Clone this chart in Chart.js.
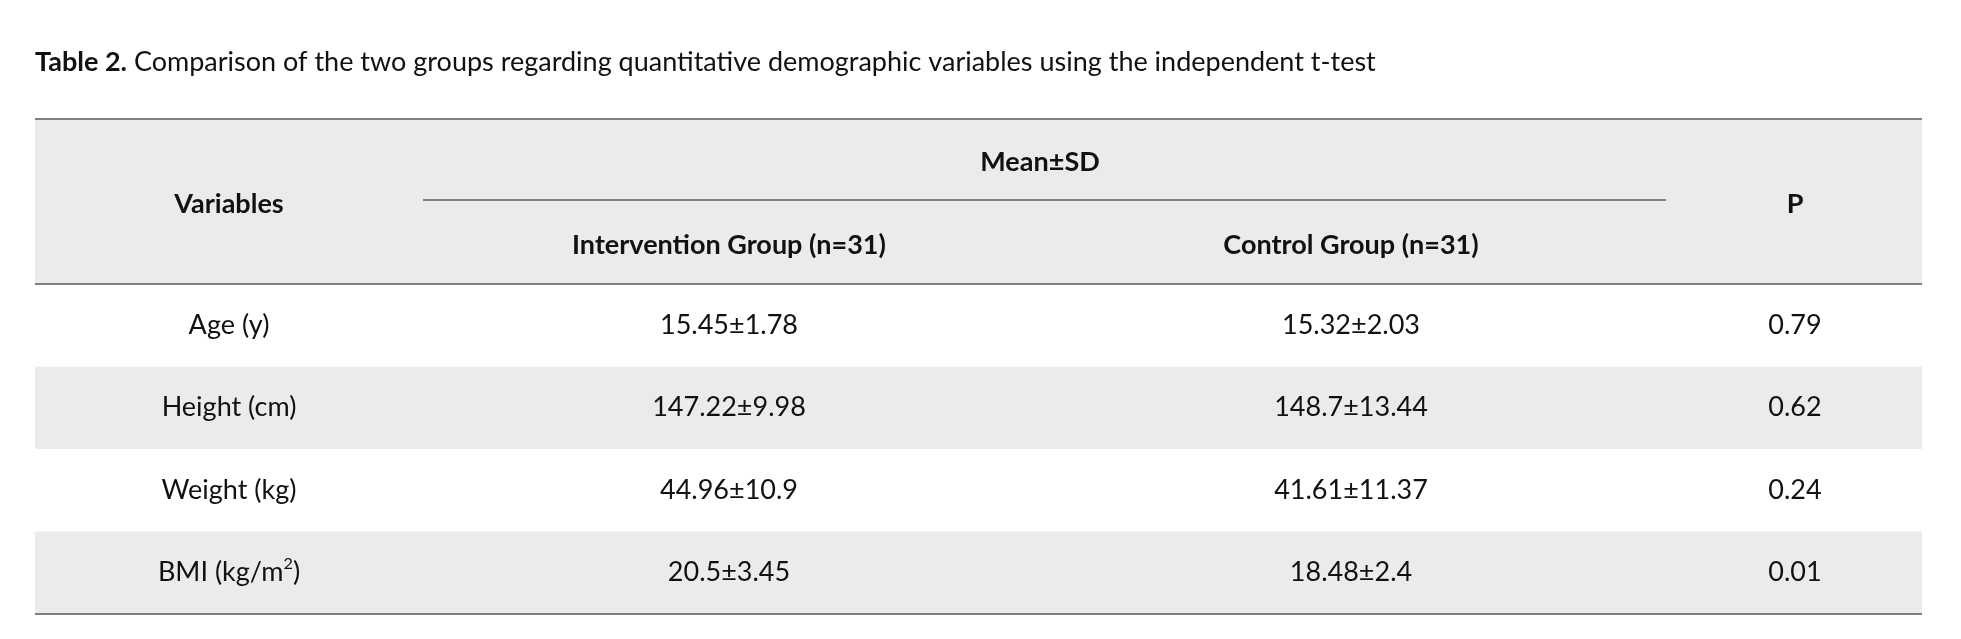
<!DOCTYPE html>
<html><head><meta charset="utf-8">
<script src="https://cdn.jsdelivr.net/npm/chart.js@4.4.0/dist/chart.umd.min.js"></script>
<style>html,body{margin:0;padding:0;background:#fff}canvas{display:block}</style>
</head><body><canvas id="c" width="1961" height="639"></canvas>
<script>
const titleBold = "Table 2.";
const titleRest = " Comparison of the two groups regarding quantitative demographic variables using the independent t-test";
const headerGroup = "Mean±SD";
const headers = ["Variables", "Intervention Group (n=31)", "Control Group (n=31)", "P"];
const variables = ["Age (y)", "Height (cm)", "Weight (kg)", "BMI (kg/m²)"];
const intervention = ["15.45±1.78", "147.22±9.98", "44.96±10.9", "20.5±3.45"];
const control = ["15.32±2.03", "148.7±13.44", "41.61±11.37", "18.48±2.4"];
const pValues = [0.79, 0.62, 0.24, 0.01];

const FONT = "Lato, 'Open Sans', sans-serif";
const colX = [229, 729, 1351, 1795];
const L = 35, R = 1922, TOP = 119, HB = 284, RH = 82.5;

function txt(ctx, s, x, y, size, bold) {
  ctx.font = (bold ? "bold " : "") + size + "px " + FONT;
  if (s.endsWith("²)")) {
    const base = s.slice(0, -2);
    const w1 = ctx.measureText(base).width;
    ctx.font = size*0.6 + "px " + FONT;
    const w2 = ctx.measureText("2").width;
    ctx.font = size + "px " + FONT;
    const w3 = ctx.measureText(")").width;
    let sx = x - (w1 + w2 + w3) / 2;
    ctx.textAlign = "left";
    ctx.fillText(base, sx, y);
    ctx.font = size*0.6 + "px " + FONT;
    ctx.fillText("2", sx + w1, y - size*0.35);
    ctx.font = size + "px " + FONT;
    ctx.fillText(")", sx + w1 + w2, y);
    ctx.textAlign = "center";
    return;
  }
  ctx.fillText(s, x, y);
}

const tablePlugin = {
  id: "tbl",
  afterDraw(chart) {
    const ctx = chart.ctx;
    const ys = chart.scales.y;
    ctx.save();
    // header bg
    ctx.fillStyle = "#ebebeb";
    ctx.fillRect(L, TOP, R - L, HB - TOP);
    variables.forEach((v, i) => {
      const yc = ys.getPixelForValue(i);
      if (i % 2 === 1) ctx.fillRect(L, yc - RH / 2, R - L, RH);
    });
    // lines
    ctx.strokeStyle = "#7f7f7f";
    ctx.lineWidth = 2;
    [[TOP], [HB], [HB + RH * variables.length]].forEach(([y]) => {
      ctx.beginPath(); ctx.moveTo(L, y); ctx.lineTo(R, y); ctx.stroke();
    });
    ctx.beginPath(); ctx.moveTo(423, 200); ctx.lineTo(1666, 200); ctx.stroke();
    // title
    ctx.fillStyle = "#111";
    ctx.textBaseline = "alphabetic";
    ctx.textAlign = "left";
    ctx.font = "bold 27px " + FONT;
    ctx.fillText(titleBold, L, 71);
    const wb = ctx.measureText(titleBold).width;
    ctx.font = "27px " + FONT;
    ctx.fillText(titleRest, L + wb, 71);
    // headers
    ctx.textAlign = "center";
    ctx.textBaseline = "middle";
    txt(ctx, headerGroup, (colX[1] + colX[2]) / 2, 162, 27, true);
    txt(ctx, headers[0], colX[0], 204, 27, true);
    txt(ctx, headers[3], colX[3], 204, 27, true);
    txt(ctx, headers[1], colX[1], 245, 27, true);
    txt(ctx, headers[2], colX[2], 245, 27, true);
    // rows
    variables.forEach((v, i) => {
      const yc = ys.getPixelForValue(i);
      txt(ctx, v, colX[0], yc, 27, false);
      txt(ctx, intervention[i], colX[1], yc, 27, false);
      txt(ctx, control[i], colX[2], yc, 27, false);
      txt(ctx, pValues[i].toFixed(2), colX[3], yc, 27, false);
    });
    ctx.restore();
  }
};

new Chart(document.getElementById("c"), {
  type: "scatter",
  data: { datasets: [{ data: variables.map((v, i) => ({ x: 0, y: i })), pointRadius: 0 }] },
  options: {
    responsive: false, animation: false,
    layout: { padding: 0 },
    plugins: { legend: { display: false }, tooltip: { enabled: false } },
    scales: {
      x: { display: false, min: 0, max: 1 },
      y: { display: false, reverse: true,
           min: -0.5 - (HB) / RH, max: -0.5 + 639 / RH - HB / RH }
    }
  },
  plugins: [tablePlugin]
});
</script></body></html>
